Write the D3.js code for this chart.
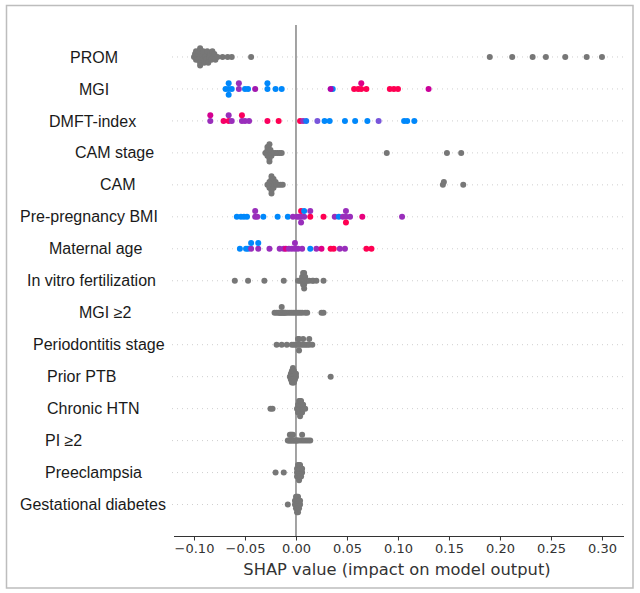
<!DOCTYPE html>
<html>
<head>
<meta charset="utf-8">
<script src="https://cdn.jsdelivr.net/npm/d3@7"></script>
<style>
  html, body { margin: 0; padding: 0; background: #fff; }
  svg { display: block; }
</style>
</head>
<body>
<svg id="chart" width="640" height="593"></svg>
<script>
// ---------------- DATA ----------------
const features = ["PROM", "MGI", "DMFT-index", "CAM stage", "CAM", "Pre-pregnancy BMI",
  "Maternal age", "In vitro fertilization", "MGI ≥2", "Periodontitis stage", "Prior PTB",
  "Chronic HTN", "PI ≥2", "Preeclampsia", "Gestational diabetes"];

const xTickValues = [-0.10, -0.05, 0.00, 0.05, 0.10, 0.15, 0.20, 0.25, 0.30];
const xTickLabels = ["−0.10", "−0.05", "0.00", "0.05", "0.10", "0.15", "0.20", "0.25", "0.30"];
const xAxisTitle = "SHAP value (impact on model output)";

const promShap = [-0.100,-0.099,-0.098,-0.098,-0.097,-0.096,-0.096,-0.095,-0.094,-0.094,-0.094,-0.093,
  -0.092,-0.091,-0.091,-0.090,-0.089,-0.088,-0.088,-0.087,-0.086,-0.085,-0.084,-0.083,-0.082,-0.081,
  -0.080,-0.079,-0.077,-0.072,-0.067,-0.063,-0.044,0.190,0.212,0.232,0.245,0.264,0.285,0.300];

const mgiShap = [-0.069,-0.066,-0.066,-0.066,-0.063,-0.056,-0.056,-0.050,-0.047,-0.040,-0.028,-0.028,
  -0.020,-0.014,0.036,0.034,0.057,0.061,0.064,0.064,0.069,0.092,0.096,0.100,0.130];
const mgiFeat = [0,0,0,0,0,0.45,0.45,0,0,0.5,0,0,
  0,0,0,0.55,1,1,1,0.75,1,1,1,1,0.65];

const dmftShap = [-0.084,-0.084,-0.071,-0.066,-0.066,-0.063,-0.053,-0.053,-0.050,-0.046,-0.028,-0.017,
  0.004,0.007,0.010,0.021,0.028,0.033,0.048,0.058,0.070,0.081,0.106,0.109,0.116];
const dmftFeat = [0.45,0.7,0.9,0.95,0.45,0.45,0.45,0.95,0.45,0.45,0.95,1,
  1,0.45,0.1,0.3,0,0,0,0,0,0.3,0,0,0];

const camStageShap = [-0.030,-0.029,-0.028,-0.028,-0.028,-0.027,-0.027,-0.027,-0.027,-0.026,-0.026,
  -0.026,-0.025,-0.025,-0.024,-0.022,-0.020,-0.018,-0.016,-0.014,0.089,0.148,0.162];

const camShap = [-0.028,-0.027,-0.026,-0.026,-0.025,-0.025,-0.025,-0.024,-0.024,-0.024,-0.024,-0.023,
  -0.023,-0.022,-0.022,-0.021,-0.020,-0.019,-0.017,-0.015,-0.013,0.144,0.145,0.164];

const bmiShap = [-0.058,-0.054,-0.051,-0.048,-0.040,-0.040,-0.038,-0.032,-0.018,-0.008,-0.003,0.001,
  0.003,0.005,0.005,0.005,0.008,0.008,0.014,0.014,0.027,0.038,0.042,0.046,0.049,0.049,0.049,0.053,
  0.065,0.104];
const bmiFeat = [0,0,0,0,0.45,0.45,0.45,0,0,0,0.45,0.45,
  0.45,0.45,1,0.45,0.45,0,1,0.45,1,0.45,0,0.45,0.45,0.45,1,0.45,
  0.8,0.45];

const ageShap = [-0.055,-0.049,-0.047,-0.044,-0.044,-0.037,-0.037,-0.026,-0.016,-0.012,-0.010,-0.007,
  -0.004,-0.001,-0.001,0.002,0.006,0.014,0.020,0.025,0.034,0.037,0.043,0.048,0.069,0.074];
const ageFeat = [0,0,0,0.45,0,0.45,0,0.45,0.45,0.45,0.75,0.45,
  0.45,0.45,0.45,0.45,0.45,0,0.45,0.75,1,1,0.45,0.45,1,1];

const ivfShap = [-0.060,-0.047,-0.031,-0.012,0.002,0.004,0.005,0.006,0.006,0.007,0.007,0.007,0.007,
  0.008,0.008,0.008,0.008,0.008,0.009,0.009,0.010,0.011,0.013,0.016,0.017,0.020,0.027];

const mgi2Shap = [-0.021,-0.019,-0.017,-0.016,-0.015,-0.014,-0.014,-0.013,-0.012,-0.011,-0.010,-0.008,
  -0.006,-0.004,-0.002,0.000,0.002,0.004,0.006,0.009,0.011,0.025,0.027];

const perioShap = [-0.019,-0.014,-0.009,-0.004,-0.002,0.000,0.002,0.002,0.003,0.003,0.003,0.005,
  0.007,0.007,0.009,0.011,0.013,0.013,0.016];

const priorShap = [-0.006,-0.005,-0.005,-0.005,-0.004,-0.004,-0.004,-0.004,-0.004,-0.003,-0.003,-0.003,
  -0.003,-0.003,-0.003,-0.002,-0.002,-0.002,-0.002,-0.002,-0.001,-0.001,-0.001,0.000,0.000,0.034];

const htnShap = [-0.025,-0.023,0.001,0.002,0.002,0.002,0.003,0.003,0.003,0.003,0.004,0.004,0.004,
  0.004,0.004,0.005,0.005,0.005,0.005,0.006,0.006,0.006,0.007,0.007,0.009];

const piShap = [-0.008,-0.007,-0.006,-0.006,-0.005,-0.005,-0.004,-0.004,-0.003,-0.003,-0.002,-0.001,
  0.000,0.001,0.002,0.004,0.006,0.006,0.008,0.010,0.012,0.014];

const preeclShap = [-0.020,-0.012,0.001,0.001,0.001,0.002,0.002,0.002,0.002,0.003,0.003,0.003,0.003,
  0.003,0.004,0.004,0.004,0.004,0.005,0.005,0.005,0.006,0.006];

const gdShap = [-0.008,-0.001,-0.001,0.000,0.000,0.000,0.000,0.001,0.001,0.001,0.001,0.001,0.002,
  0.002,0.002,0.002,0.002,0.003,0.003,0.003,0.004,0.004];

const rowShap = [promShap, mgiShap, dmftShap, camStageShap, camShap, bmiShap, ageShap, ivfShap,
  mgi2Shap, perioShap, priorShap, htnShap, piShap, preeclShap, gdShap];
const rowFeat = [null, mgiFeat, dmftFeat, null, null, bmiFeat, ageFeat, null,
  null, null, null, null, null, null, null];

// ---------------- LAYOUT ----------------
const labelLeft = [70, 79, 49, 75, 100, 20, 49, 27, 79, 33, 47, 47, 45, 45, 20];

const svg = d3.select("#chart");
svg.append("rect").attr("x", 0).attr("y", 0).attr("width", 640).attr("height", 593).attr("fill", "#fff");
svg.append("rect").attr("x", 6.5).attr("y", 5.5).attr("width", 626.5).attr("height", 582.5)
  .attr("fill", "none").attr("stroke", "#bdbdbd").attr("stroke-width", 1.5);

const nRows = features.length;
const x = d3.scaleLinear().domain([-0.1196, 0.3216]).range([174, 624]);
const y = d3.scaleLinear().domain([-1, nRows]).range([536.5, 25]);

// shap red_blue colormap (LCH interpolation)
function redBlue(t) {
  const l = t < 0.5 ? 54 + (40 - 54) * (t / 0.5) : 40 + (54 - 40) * ((t - 0.5) / 0.5);
  const c = 70 + (90 - 70) * t;
  const h = 266.93 + (380.32 - 266.93) * t;
  return d3.hcl(h, c, l).rgb().clamp().formatHex();
}

// beeswarm offsets (shap-style)
function swarm(vals) {
  const nbins = 100;
  const mn = d3.min(vals), mx = d3.max(vals);
  const quant = vals.map(v => Math.round(nbins * (v - mn) / (mx - mn + 1e-8)));
  const inds = d3.range(vals.length).sort((a, b) => (quant[a] - quant[b]) || (a - b));
  const ys = new Array(vals.length).fill(0);
  let layer = 0, last = -1;
  for (const i of inds) {
    if (quant[i] !== last) layer = 0;
    ys[i] = Math.ceil(layer / 2) * ((layer % 2) * 2 - 1);
    layer++;
    last = quant[i];
  }
  const m = d3.max(ys) + 1;
  return ys.map(v => v * 0.9 * (0.4 / m));
}

const plot = svg.append("g");

// dotted horizontal lines
features.forEach((f, i) => {
  const pos = nRows - 1 - i;
  plot.append("line").attr("x1", 172).attr("x2", 624)
    .attr("y1", y(pos)).attr("y2", y(pos))
    .attr("stroke", "#cfcfcf").attr("stroke-width", 1)
    .attr("stroke-dasharray", "1,4");
});

// zero line
plot.append("line").attr("x1", x(0)).attr("x2", x(0)).attr("y1", y(nRows)).attr("y2", y(-1))
  .attr("stroke", "#999").attr("stroke-width", 1.8);

// points
features.forEach((f, i) => {
  const pos = nRows - 1 - i;
  const vals = rowShap[i];
  const feat = rowFeat[i];
  const offs = swarm(vals);
  plot.append("g").selectAll("circle").data(vals).join("circle")
    .attr("cx", d => x(d))
    .attr("cy", (d, k) => y(pos + offs[k]))
    .attr("r", 3)
    .attr("fill", (d, k) => feat ? redBlue(feat[k]) : "#777777");
});

// feature labels
features.forEach((f, i) => {
  const pos = nRows - 1 - i;
  svg.append("text").attr("x", labelLeft[i]).attr("y", y(pos))
    .attr("dy", "0.35em").attr("text-anchor", "start")
    .attr("font-family", "'Liberation Sans', Arial, sans-serif")
    .attr("font-size", 16).attr("fill", "#1a1a1a").text(f);
});

// x axis
const axis = svg.append("g").attr("transform", `translate(0,${y(-1)})`);
axis.append("line").attr("x1", 174).attr("x2", 624).attr("y1", 0).attr("y2", 0)
  .attr("stroke", "#333").attr("stroke-width", 1);
const xAx = d3.axisBottom(x).tickValues(xTickValues).tickSize(4).tickPadding(3)
  .tickFormat((d, k) => xTickLabels[k]);
const axg = axis.append("g").call(xAx);
axg.select(".domain").remove();
axg.selectAll(".tick line").attr("stroke", "#333");
axg.selectAll(".tick text").attr("font-family", "'DejaVu Sans', sans-serif")
  .attr("font-size", 13).attr("fill", "#333");

svg.append("text").attr("x", 397).attr("y", 575)
  .attr("text-anchor", "middle")
  .attr("font-family", "'DejaVu Sans', sans-serif")
  .attr("font-size", 16.3).attr("fill", "#333").text(xAxisTitle);
</script>
</body>
</html>
